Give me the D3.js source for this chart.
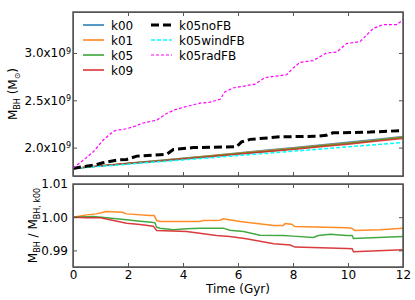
<!DOCTYPE html>
<html>
<head>
<meta charset="UTF-8">
<script src="https://cdn.jsdelivr.net/npm/d3@7"></script>
<style>
  body { margin: 0; background: #fff; }
  text { font-family: "DejaVu Sans", sans-serif; }
  .frame line, .frame path { stroke: #555; }
</style>
</head>
<body>
<div id="chart"></div>
<script>
// ---- data ----
var tTop = [0, 1, 2, 3, 4, 5, 6, 7, 8, 9, 10, 11, 12];
var k00 = [1.780, 1.807, 1.834, 1.861, 1.888, 1.915, 1.943, 1.971, 1.999, 2.028, 2.057, 2.087, 2.118];
var k01 = [1.780, 1.809, 1.836, 1.859, 1.886, 1.913, 1.940, 1.966, 1.993, 2.022, 2.050, 2.079, 2.111];
var k05 = [1.780, 1.807, 1.833, 1.856, 1.881, 1.909, 1.935, 1.960, 1.988, 2.017, 2.044, 2.074, 2.106];
var k09 = [1.780, 1.807, 1.831, 1.854, 1.880, 1.904, 1.931, 1.955, 1.981, 2.009, 2.036, 2.066, 2.097];
var windFB = [1.780, 1.802, 1.825, 1.848, 1.870, 1.893, 1.916, 1.939, 1.962, 1.985, 2.008, 2.031, 2.055];

var tNoFB = [0, 0.86, 1.09, 1.59, 1.95, 2.32, 3.41, 3.65, 4.37, 5.95, 6.13, 6.44, 7.53, 8.9, 9.22, 9.45, 10.8, 12];
var noFB  = [1.780, 1.822, 1.840, 1.868, 1.875, 1.910, 1.930, 1.980, 2.000, 2.010, 2.060, 2.087, 2.114, 2.120, 2.130, 2.156, 2.164, 2.180];

var tRad = [0, 0.3, 0.73, 1.1, 1.41, 1.53, 1.95, 2.2, 2.55, 3.04, 3.4, 3.71, 4.07, 4.62, 4.98, 5.35, 5.53, 5.82, 6.62, 6.98, 7.77, 8.0, 8.25, 8.73, 9.22, 9.59, 9.95, 10.44, 10.92, 11.28, 11.77, 12];
var radFB = [1.783, 1.85, 1.953, 2.08, 2.156, 2.18, 2.20, 2.22, 2.26, 2.29, 2.36, 2.40, 2.43, 2.47, 2.48, 2.51, 2.59, 2.63, 2.67, 2.74, 2.77, 2.84, 2.90, 2.92, 3.00, 3.01, 3.10, 3.12, 3.26, 3.30, 3.30, 3.35];

// ratio to k00 (bottom panel)
var tK01 = [0, 0.5, 0.85, 1.1, 1.2, 1.8, 1.95, 2.8, 2.95, 3.05, 3.16, 4.6, 4.73, 5.35, 5.46, 5.67, 6.07, 7.3, 7.65, 7.71, 7.95, 8.07, 9.95, 10.13, 10.25, 11.16, 12];
var rK01 = [1.0000, 1.0007, 1.0010, 1.0015, 1.0017, 1.0015, 1.0010, 1.0005, 1.0005, 0.9990, 0.9987, 0.9987, 0.9990, 0.9991, 0.9995, 0.9992, 0.9987, 0.9975, 0.9975, 0.9981, 0.9979, 0.9972, 0.9968, 0.9967, 0.9960, 0.9962, 0.9967];
var tK05 = [0, 0.74, 1.22, 1.95, 2.44, 2.86, 2.98, 3.04, 3.16, 3.65, 4.13, 4.62, 5.47, 5.7, 6.2, 6.8, 7.65, 8.0, 8.74, 8.92, 9.35, 9.95, 10.15, 10.2, 12];
var rK05 = [1.0000, 1.0002, 0.9998, 0.9992, 0.9988, 0.9985, 0.9983, 0.9970, 0.9967, 0.9962, 0.9965, 0.9967, 0.9967, 0.9961, 0.9957, 0.9946, 0.9945, 0.9943, 0.9939, 0.9945, 0.9949, 0.9945, 0.9945, 0.9936, 0.9942];
var tK09 = [0, 0.5, 1.0, 1.47, 1.95, 2.44, 2.92, 3.04, 4.13, 5.22, 5.7, 6.3, 7.3, 7.9, 8.07, 9.95, 10.15, 10.2, 12];
var rK09 = [1.0000, 0.9998, 0.9998, 0.9990, 0.9982, 0.9978, 0.9973, 0.9960, 0.9957, 0.9945, 0.9942, 0.9935, 0.9920, 0.9916, 0.9910, 0.9906, 0.9905, 0.9896, 0.9902];

var xTicks = [0, 2, 4, 6, 8, 10, 12];
var yTopTicks = [2.0, 2.5, 3.0];
var yBotTicks = [0.99, 1.00, 1.01];

var colors = {k00: "#1f77b4", k01: "#ff7f0e", k05: "#2ca02c", k09: "#d62728"};

// ---- layout ----
var width = 415, height = 300;
var left = 73, right = 403;
var top1 = 12, bot1 = 176;
var top2 = 184, bot2 = 267;

var svg = d3.select("#chart").append("svg")
  .attr("width", width).attr("height", height);

var x = d3.scaleLinear().domain([0, 12]).range([left, right]);
var y1 = d3.scaleLinear().domain([1.70, 3.433]).range([bot1, top1]);
var y2 = d3.scaleLinear().domain([0.985, 1.01]).range([bot2, top2]);

// clip paths
var defs = svg.append("defs");
defs.append("clipPath").attr("id", "c1").append("rect")
  .attr("x", left).attr("y", top1).attr("width", right - left).attr("height", bot1 - top1);
defs.append("clipPath").attr("id", "c2").append("rect")
  .attr("x", left).attr("y", top2).attr("width", right - left).attr("height", bot2 - top2);

function series(ts, vs) { return ts.map(function(t, i){ return [t, vs[i]]; }); }

var line1 = d3.line().x(function(d){ return x(d[0]); }).y(function(d){ return y1(d[1]); });
var line2 = d3.line().x(function(d){ return x(d[0]); }).y(function(d){ return y2(d[1]); });

// ---- top panel lines ----
var g1 = svg.append("g").attr("clip-path", "url(#c1)");
var topLines = [
  {v: k00, c: colors.k00, w: 1.5},
  {v: k01, c: colors.k01, w: 1.5},
  {v: k05, c: colors.k05, w: 1.5},
  {v: k09, c: colors.k09, w: 1.5}
];
topLines.forEach(function(s){
  g1.append("path").attr("d", line1(series(tTop, s.v)))
    .attr("fill", "none").attr("stroke", s.c).attr("stroke-width", s.w).attr("opacity", 0.85);
});
g1.append("path").attr("d", line1(series(tTop, windFB)))
  .attr("fill", "none").attr("stroke", "#00ffff").attr("stroke-width", 1.5).attr("stroke-dasharray", "4,2");
g1.append("path").attr("d", line1(series(tNoFB, noFB)))
  .attr("fill", "none").attr("stroke", "#000").attr("stroke-width", 3).attr("stroke-dasharray", "8,4");
g1.append("path").attr("d", line1(series(tRad, radFB)))
  .attr("fill", "none").attr("stroke", "#ff00ff").attr("stroke-width", 1.2).attr("stroke-dasharray", "3,2");

// ---- bottom panel lines ----
var g2 = svg.append("g").attr("clip-path", "url(#c2)");
[[tK01, rK01, colors.k01], [tK05, rK05, colors.k05], [tK09, rK09, colors.k09]].forEach(function(s){
  g2.append("path").attr("d", line2(series(s[0], s[1])))
    .attr("fill", "none").attr("stroke", s[2]).attr("stroke-width", 1.5).attr("opacity", 0.9);
});

// ---- axes ----
function frame(yScale, yTicks, yTop, yBot, showX, supLabels) {
  var gb = svg.append("g").attr("class", "frame")
    .attr("transform", "translate(0," + yBot + ")")
    .call(d3.axisBottom(x).tickValues(xTicks).tickSizeInner(-4).tickSizeOuter(0).tickPadding(3)
      .tickFormat(showX ? d3.format("d") : ""));
  gb.selectAll("text").attr("font-size", 12).attr("fill", "#000");

  svg.append("g").attr("class", "frame")
    .attr("transform", "translate(0," + yTop + ")")
    .call(d3.axisTop(x).tickValues(xTicks).tickSizeInner(-4).tickSizeOuter(0).tickFormat(""));

  var gl = svg.append("g").attr("class", "frame")
    .attr("transform", "translate(" + left + ",0)")
    .call(d3.axisLeft(yScale).tickValues(yTicks).tickSizeInner(-4).tickSizeOuter(0).tickPadding(5)
      .tickFormat(supLabels ? "" : d3.format(".2f")));
  gl.selectAll("text").attr("font-size", 12).attr("fill", "#000");
  if (supLabels) {
    gl.selectAll(".tick text").each(function(d){
      var t = d3.select(this);
      t.append("tspan").text(d3.format(".1f")(d) + "x10");
      t.append("tspan").attr("font-size", 8).attr("dy", "-0.45em").text("9");
    });
    gl.selectAll(".tick text").attr("x", -2);
  }

  svg.append("g").attr("class", "frame")
    .attr("transform", "translate(" + right + ",0)")
    .call(d3.axisRight(yScale).tickValues(yTicks).tickSizeInner(-4).tickSizeOuter(0).tickFormat(""));

  svg.append("rect").attr("x", left).attr("y", yTop)
    .attr("width", right - left).attr("height", yBot - yTop)
    .attr("fill", "none").attr("stroke", "#555").attr("stroke-width", 1.5);
}
frame(y1, yTopTicks, top1, bot1, false, true);
frame(y2, yBotTicks, top2, bot2, true, false);

// ---- axis labels ----
svg.append("text").attr("x", (left + right) / 2).attr("y", 293)
  .attr("text-anchor", "middle").attr("font-size", 12).text("Time (Gyr)");

var yl1 = svg.append("text").attr("transform", "translate(17," + (top1 + bot1) / 2 + ") rotate(-90)")
  .attr("text-anchor", "middle").attr("font-size", 12);
yl1.append("tspan").text("M");
yl1.append("tspan").attr("font-size", 8).attr("dy", 3).text("BH");
yl1.append("tspan").attr("dy", -3).text(" (M");
yl1.append("tspan").attr("font-size", 8).attr("dy", 3).text("⊙");
yl1.append("tspan").attr("dy", -3).text(")");

var yl2 = svg.append("text").attr("transform", "translate(37," + (top2 + bot2) / 2 + ") rotate(-90)")
  .attr("text-anchor", "middle").attr("font-size", 12);
yl2.append("tspan").text("M");
yl2.append("tspan").attr("font-size", 8).attr("dy", 3).text("BH");
yl2.append("tspan").attr("dy", -3).text(" / M");
yl2.append("tspan").attr("font-size", 8).attr("dy", 3).text("BH, k00");

// ---- legend ----
var legend = [
  {name: "k00", c: colors.k00, w: 1.5, dash: null, col: 0, row: 0},
  {name: "k01", c: colors.k01, w: 1.5, dash: null, col: 0, row: 1},
  {name: "k05", c: colors.k05, w: 1.5, dash: null, col: 0, row: 2},
  {name: "k09", c: colors.k09, w: 1.5, dash: null, col: 0, row: 3},
  {name: "k05noFB", c: "#000", w: 3, dash: "8,4", col: 1, row: 0},
  {name: "k05windFB", c: "#00ffff", w: 1.5, dash: "4,2", col: 1, row: 1},
  {name: "k05radFB", c: "#ff00ff", w: 1.2, dash: "3,2", col: 1, row: 2}
];
var colX = [83, 151];
legend.forEach(function(d){
  var lx = colX[d.col], ly = 25 + d.row * 15;
  svg.append("line").attr("x1", lx).attr("x2", lx + 21).attr("y1", ly).attr("y2", ly)
    .attr("stroke", d.c).attr("stroke-width", d.w).attr("stroke-dasharray", d.dash);
  svg.append("text").attr("x", lx + 28).attr("y", ly + 4.5).attr("font-size", 12).text(d.name);
});
</script>
</body>
</html>
